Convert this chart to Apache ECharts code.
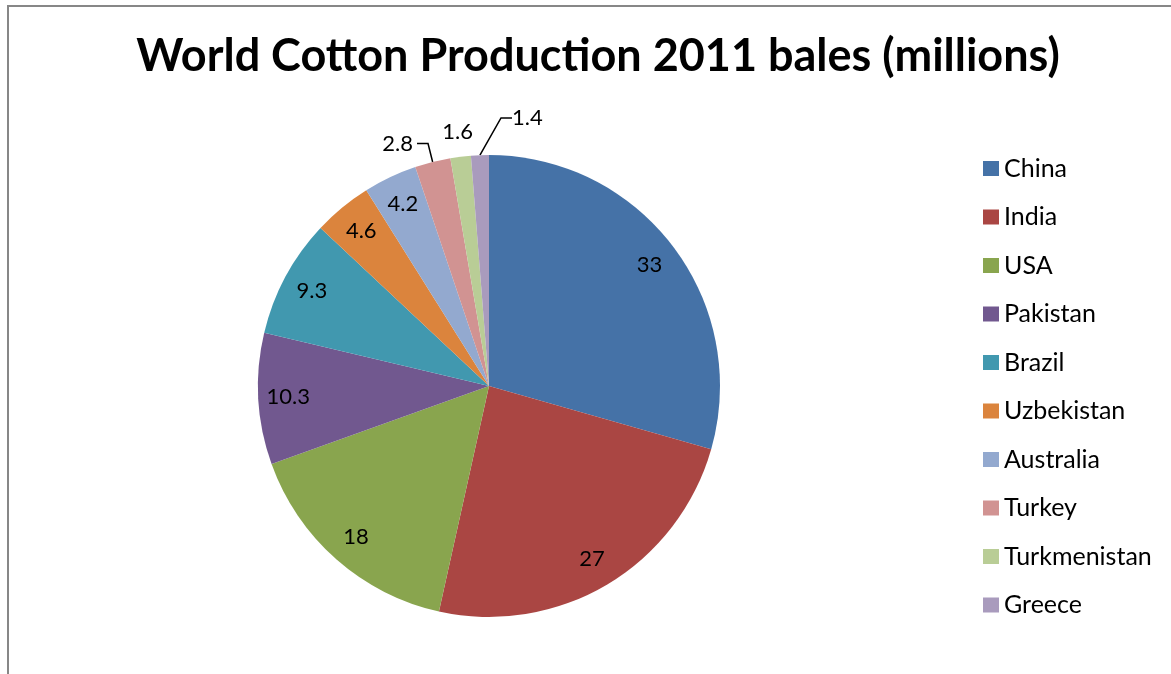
<!DOCTYPE html>
<html>
<head>
<meta charset="utf-8">
<title>World Cotton Production 2011</title>
<script src="https://cdn.jsdelivr.net/npm/echarts@6/dist/echarts.min.js"></script>
<style>
  html, body { margin: 0; padding: 0; background: #fff; }
  #cotton-pie { width: 1171px; height: 674px; }
</style>
</head>
<body>
<div id="cotton-pie"></div>
<script>
// data
var countries = ['China', 'India', 'USA', 'Pakistan', 'Brazil', 'Uzbekistan', 'Australia', 'Turkey', 'Turkmenistan', 'Greece'];
var bales = [33, 27, 18, 10.3, 9.3, 4.6, 4.2, 2.8, 1.6, 1.4];
var sliceColors = ['#4572A7', '#AA4643', '#89A54E', '#71588F', '#4198AF', '#DB843D', '#93A9CF', '#D19392', '#B9CD96', '#A99BBD'];

// which labels sit where
var outsideWithLine = ['Turkey', 'Greece'];
var outsideNoLine = ['Turkmenistan'];

var FONT = 'Lato, "Liberation Sans", sans-serif';
var chart = echarts.init(document.getElementById('cotton-pie'));

var mainData = countries.map(function (name, i) {
    var item = { name: name, value: bales[i], itemStyle: { color: sliceColors[i] } };
    if (outsideWithLine.indexOf(name) > -1) {
        item.label = { show: true };
        item.labelLine = { show: true };
    }
    return item;
});
var innerData = countries.map(function (name, i) {
    var inside = outsideWithLine.indexOf(name) < 0 && outsideNoLine.indexOf(name) < 0;
    return { name: name, value: bales[i], label: { show: inside } };
});
var ringData = countries.map(function (name, i) {
    return { name: name, value: bales[i], label: { show: outsideNoLine.indexOf(name) > -1 } };
});

var option = {
    animation: false,
    title: {
        text: 'World Cotton Production 2011 bales (millions)',
        left: 593,
        textAlign: 'center',
        top: 29,
        textStyle: { fontFamily: FONT, fontWeight: 'bold', fontSize: 45, color: '#000' }
    },
    legend: {
        orient: 'vertical',
        left: 983,
        top: 156,
        padding: 0,
        data: countries,
        icon: 'rect',
        itemWidth: 16,
        itemHeight: 15,
        itemGap: 23.5,
        selectedMode: false,
        textStyle: { fontFamily: FONT, fontSize: 25, color: '#000', lineHeight: 24 }
    },
    graphic: [{
        type: 'rect',
        shape: { x: 8, y: 6, width: 1300, height: 800 },
        style: { fill: 'none', stroke: '#878787', lineWidth: 2 },
        silent: true
    }],
    series: [
        {
            name: 'bales',
            type: 'pie',
            center: [489, 386],
            radius: [0, 231],
            startAngle: 90,
            clockwise: true,
            avoidLabelOverlap: false,
            data: mainData,
            label: {
                show: false,
                position: 'outside',
                formatter: '{c}',
                fontFamily: FONT,
                fontSize: 22,
                color: '#000',
                distanceToLabelLine: 4
            },
            labelLine: {
                show: false,
                length: 19,
                length2: 11,
                smooth: false,
                lineStyle: { color: '#000', width: 1.5 }
            },
            // Greece's label sits up and to the right of its slice
            labelLayout: function (params) {
                if (params.dataIndex === 9) {
                    return {
                        x: params.rect.x + params.rect.width + 23,
                        y: params.rect.y - 37,
                        align: 'left',
                        verticalAlign: 'middle'
                    };
                }
            },
            emphasis: { disabled: true }
        },
        {
            name: 'inner labels',
            type: 'pie',
            center: [489, 386],
            radius: [165, 231],
            startAngle: 90,
            clockwise: true,
            silent: true,
            data: innerData,
            itemStyle: { color: 'rgba(0,0,0,0)' },
            label: {
                position: 'inside',
                formatter: '{c}',
                fontFamily: FONT,
                fontSize: 22,
                color: '#000'
            },
            labelLine: { show: false },
            emphasis: { disabled: true }
        },
        {
            name: 'ring labels',
            type: 'pie',
            center: [489, 386],
            radius: [231, 275],
            startAngle: 90,
            clockwise: true,
            silent: true,
            data: ringData,
            itemStyle: { color: 'rgba(0,0,0,0)' },
            label: {
                position: 'inside',
                formatter: '{c}',
                fontFamily: FONT,
                fontSize: 22,
                color: '#000'
            },
            labelLine: { show: false },
            emphasis: { disabled: true }
        }
    ]
};

chart.setOption(option);
window.addEventListener('resize', function () {
    chart.resize();
});
</script>
</body>
</html>
